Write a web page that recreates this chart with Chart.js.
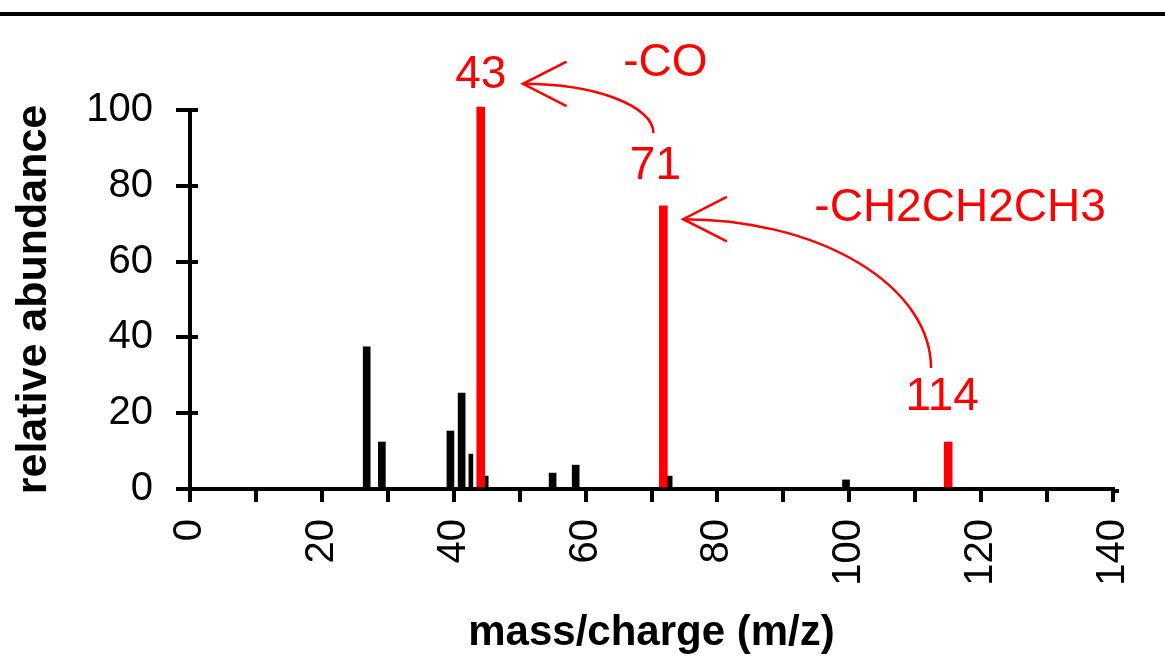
<!DOCTYPE html>
<html>
<head>
<meta charset="utf-8">
<script src="https://cdn.jsdelivr.net/npm/chart.js@4.4.1/dist/chart.umd.min.js"></script>
<style>
  html, body { margin: 0; padding: 0; background: #fff; }
  #wrap { width: 1165px; height: 659px; position: relative; }
</style>
</head>
<body>
<div id="wrap"><canvas id="msChart"></canvas></div>
<script>
// peaks (m/z position, relative abundance)
const mzBlack = [26.8, 29.1, 39.5, 41.2, 44.7, 55.0, 58.5, 72.6, 99.5];
const abBlack = [37.5, 12.4, 15.3, 25.3, 3.4, 4.2, 6.3, 3.4, 2.4];
const mzThin = [42.6];
const abThin = [9.2];
const mzRed = [44.1, 71.8, 115.0];
const abRed = [100.8, 74.7, 12.4];

// axis ranges
const xMin = 0, xMax = 140, xStep = 10, xLabelEvery = 20;
const yMin = 0, yMax = 100, yStep = 20;

// red annotations (in data units)
const noteText = ['43', '-CO', '71', '-CH2CH2CH3', '114'];
const noteX = [44.1, 72.1, 70.6, 116.8, 114.1];
const noteY = [109.2, 112.3, 85.2, 74.1, 24.1];

// curved arrows: start (bottom end) and tip
const arrowStartX = [70.3, 112.4];
const arrowStartY = [93.9, 31.9];
const arrowTipX = [50.5, 74.8];
const arrowTipY = [106.9, 71.2];

function toPoints(xs, ys) {
    return xs.map((x, i) => ({ x: x, y: ys[i] }));
}

Chart.defaults.font.family = '"Liberation Sans", Arial, sans-serif';
Chart.defaults.color = '#000';

// top rule, inner y tick stubs, red notes and arrows
const extras = {
    id: 'extras',
    beforeDraw(chart) {
        const ctx = chart.ctx;
        ctx.save();
        ctx.fillStyle = '#000';
        ctx.fillRect(0, 12, chart.width, 4);
        ctx.restore();
    },
    afterDraw(chart) {
        const ctx = chart.ctx;
        const xs = chart.scales.x, ys = chart.scales.y;
        ctx.save();
        // y ticks poke a little into the plot
        ctx.strokeStyle = '#000';
        ctx.lineWidth = 4;
        ys.ticks.forEach(t => {
            const py = Math.round(ys.getPixelForValue(t.value));
            ctx.beginPath();
            ctx.moveTo(xs.left, py);
            ctx.lineTo(xs.left + 8, py);
            ctx.stroke();
        });
        // axis runs a bit past the last tick
        ctx.fillRect(xs.right, ys.bottom, 6, 4);

        ctx.fillStyle = '#ff0000';
        ctx.font = '46px "Liberation Sans", Arial, sans-serif';
        ctx.textAlign = 'center';
        ctx.textBaseline = 'middle';
        noteText.forEach((t, i) => {
            ctx.fillText(t, xs.getPixelForValue(noteX[i]), ys.getPixelForValue(noteY[i]));
        });

        ctx.strokeStyle = '#ff0000';
        ctx.lineWidth = 2.5;
        const headLen = 49, headAng = 27 * Math.PI / 180;
        arrowTipX.forEach((tx, i) => {
            const tipX = xs.getPixelForValue(tx), tipY = ys.getPixelForValue(arrowTipY[i]);
            const sX = xs.getPixelForValue(arrowStartX[i]), sY = ys.getPixelForValue(arrowStartY[i]);
            ctx.beginPath();
            ctx.ellipse(tipX, sY, sX - tipX, sY - tipY, 0, 0, -Math.PI / 2, true);
            ctx.stroke();
            ctx.beginPath();
            ctx.moveTo(tipX + headLen * Math.cos(headAng), tipY - headLen * Math.sin(headAng));
            ctx.lineTo(tipX, tipY);
            ctx.lineTo(tipX + headLen * Math.cos(headAng), tipY + headLen * Math.sin(headAng));
            ctx.stroke();
        });
        ctx.restore();
    }
};

const ctx = document.getElementById('msChart').getContext('2d');
new Chart(ctx, {
    type: 'bar',
    data: {
        datasets: [
            {
                label: 'base peaks',
                data: toPoints(mzRed, abRed),
                backgroundColor: '#ff0000',
                barThickness: 8,
                grouped: false,
                clip: false,
                order: 0
            },
            {
                label: 'fragments',
                data: toPoints(mzBlack, abBlack),
                backgroundColor: '#000',
                barThickness: 7,
                grouped: false,
                order: 1
            },
            {
                label: 'fragments (thin)',
                data: toPoints(mzThin, abThin),
                backgroundColor: '#000',
                barThickness: 4,
                grouped: false,
                order: 1
            }
        ]
    },
    options: {
        responsive: true,
        maintainAspectRatio: false,
        animation: false,
        layout: {
            padding: { top: 110, right: 52, left: 0, bottom: 0 }
        },
        plugins: {
            legend: { display: false },
            tooltip: { enabled: false }
        },
        scales: {
            x: {
                type: 'linear',
                min: xMin,
                max: xMax,
                offset: false,
                afterFit: s => { s.height = 170; s.paddingRight = 0; s.paddingLeft = 0; },
                grid: {
                    offset: false,
                    drawOnChartArea: false,
                    color: '#000',
                    lineWidth: 4,
                    tickLength: 13
                },
                border: { display: true, color: '#000', width: 4 },
                ticks: {
                    stepSize: xStep,
                    minRotation: 90,
                    maxRotation: 90,
                    padding: 17,
                    autoSkip: false,
                    font: { size: 40 },
                    callback: v => (v % xLabelEvery === 0 ? String(v) : '')
                },
                title: {
                    display: true,
                    text: 'mass/charge (m/z)',
                    font: { size: 42, weight: 'bold' },
                    padding: { top: 0, bottom: 0 }
                }
            },
            y: {
                min: yMin,
                max: yMax,
                afterFit: s => { s.width = 190; },
                grid: {
                    drawOnChartArea: false,
                    color: '#000',
                    lineWidth: 4,
                    tickLength: 14
                },
                border: { display: true, color: '#000', width: 4 },
                ticks: {
                    stepSize: yStep,
                    padding: 23,
                    font: { size: 40 }
                },
                title: {
                    display: true,
                    text: 'relative abundance',
                    font: { size: 43, weight: 'bold' },
                    padding: { top: 8, bottom: 0 }
                }
            }
        }
    },
    plugins: [extras]
});
</script>
</body>
</html>
